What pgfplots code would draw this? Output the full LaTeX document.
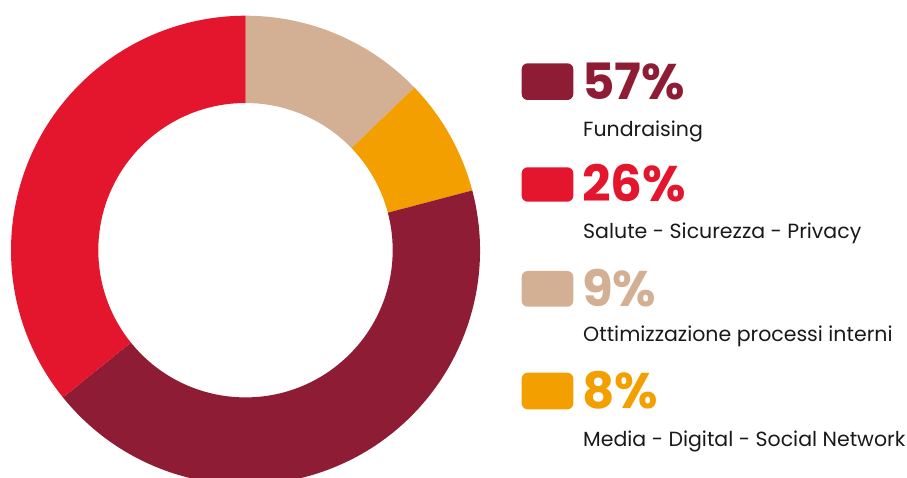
\documentclass[border=0pt]{standalone}
\usepackage{pgfplots}
\pgfplotsset{compat=1.18}
\usepackage{fontspec}
\setmainfont{Poppins}
\newfontfamily\numfont{Poppins}
\newfontfamily\labfont{Poppins}
\definecolor{cdark}{HTML}{8E1C34}
\definecolor{cred}{HTML}{E3162D}
\definecolor{cbeige}{HTML}{D3B093}
\definecolor{corange}{HTML}{F39F00}
% drawn shares of the ring (percent of full circle), clockwise from 12 o'clock
\def\shBeige{12.8}
\def\shOrange{8.1}
\def\shDark{43.3}
\def\shRed{35.8}
\pgfmathsetmacro\angA{90}
\pgfmathsetmacro\angB{\angA-3.6*\shBeige}
\pgfmathsetmacro\angC{\angB-3.6*\shOrange}
\pgfmathsetmacro\angD{\angC-3.6*\shDark}
\pgfmathsetmacro\angE{\angD-3.6*\shRed}
\def\cx{245.5}
\def\cy{226.8}
\def\ro{234.5}
\def\ri{147.2}
\newcommand\slice[3]{%
  \fill[#3] (axis cs:{\cx+\ro*cos(#1)},{\cy+\ro*sin(#1)})
    arc[start angle=#1, end angle=#2, radius=\ro pt]
    -- (axis cs:{\cx+\ri*cos(#2)},{\cy+\ri*sin(#2)})
    arc[start angle=#2, end angle=#1, radius=\ri pt] -- cycle;}
\newcommand\legitem[4]{%
  \fill[#3, rounded corners=6pt] (axis cs:521.7,{477-#1}) rectangle (axis cs:573.3,{477-#2});
  \node[anchor=base west, inner sep=0pt, text=#3, font=\numfont\bfseries\fontsize{50}{50}\selectfont] at (axis cs:582,{477-#2+0.5}) {#4};}
\newcommand\leglab[2]{%
  \node[anchor=base west, inner sep=0pt, text=black!90, font=\labfont\fontsize{20.5}{20.5}\selectfont] at (axis cs:583,{477-#1}) {#2};}
\begin{document}
\begin{tikzpicture}
\begin{axis}[
  at={(0,0)}, anchor=south west,
  width=907pt, height=477pt, scale only axis,
  xmin=0, xmax=907, ymin=0, ymax=477,
  hide axis, clip=true]
\slice{\angA}{\angB}{cbeige}
\slice{\angB}{\angC}{corange}
\slice{\angC}{\angD}{cdark}
\slice{\angD}{\angE}{cred}
\legitem{63.3}{100}{cdark}{57\%}
\leglab{136.7}{Fundraising}
\legitem{167.3}{201.7}{cred}{26\%}
\leglab{238.3}{Salute - Sicurezza - Privacy}
\legitem{271}{306.7}{cbeige}{9\%}
\leglab{341.7}{Ottimizzazione processi interni}
\legitem{372.7}{409.3}{corange}{8\%}
\leglab{446.7}{Media - Digital - Social Network}
\end{axis}
\pgfresetboundingbox
\path (0,0) rectangle (907pt,477pt);
\end{tikzpicture}
\end{document}
